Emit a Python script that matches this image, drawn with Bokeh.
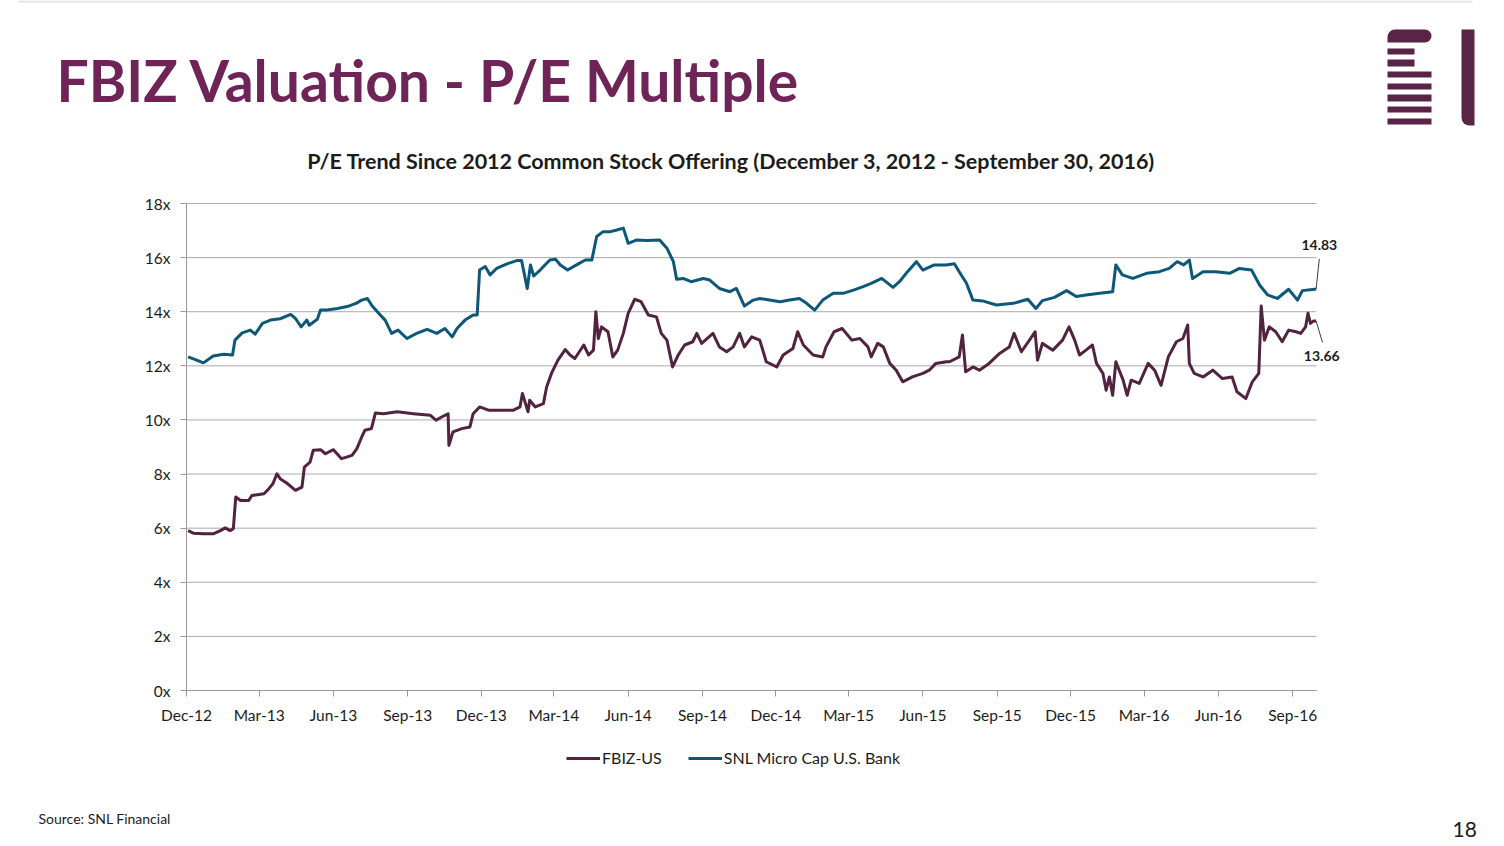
import pandas as pd
from datetime import datetime
from bokeh.plotting import figure
from bokeh.models import (Range1d, FixedTicker, DatetimeTickFormatter, PrintfTickFormatter,
                          Label, Legend, LegendItem, BoxAnnotation, Arrow, ColumnDataSource)
from bokeh.embed import file_html
from bokeh.resources import INLINE

# ---------------- data ----------------
slide_title = "FBIZ Valuation - P/E Multiple"
chart_title = "P/E Trend Since 2012 Common Stock Offering (December 3, 2012 - September 30, 2016)"
source_note = "Source: SNL Financial"
page_number = "18"
series_names = ["FBIZ-US", "SNL Micro Cap U.S. Bank"]
tick_labels = ["Dec-12", "Mar-13", "Jun-13", "Sep-13", "Dec-13", "Mar-14", "Jun-14", "Sep-14",
               "Dec-14", "Mar-15", "Jun-15", "Sep-15", "Dec-15", "Mar-16", "Jun-16", "Sep-16"]
y_ticks = [0, 2, 4, 6, 8, 10, 12, 14, 16, 18]

fbiz_dates = [
    "2012-12-03", "2012-12-10", "2012-12-22", "2013-01-03", "2013-01-12", "2013-01-18", "2013-01-24",
    "2013-01-28", "2013-01-31", "2013-02-06", "2013-02-16", "2013-02-20", "2013-03-07", "2013-03-13",
    "2013-03-18", "2013-03-23", "2013-03-27", "2013-04-04", "2013-04-15", "2013-04-23", "2013-04-26",
    "2013-05-03", "2013-05-07", "2013-05-16", "2013-05-22", "2013-06-01", "2013-06-11", "2013-06-24",
    "2013-06-30", "2013-07-06", "2013-07-10", "2013-07-18", "2013-07-23", "2013-08-02", "2013-08-19",
    "2013-09-08", "2013-09-29", "2013-10-06", "2013-10-13", "2013-10-21", "2013-10-22", "2013-10-27",
    "2013-11-07", "2013-11-17", "2013-11-21", "2013-11-29", "2013-12-10", "2013-12-24", "2014-01-10",
    "2014-01-18", "2014-01-21", "2014-01-28", "2014-01-30", "2014-02-06", "2014-02-16", "2014-02-20",
    "2014-02-26", "2014-03-06", "2014-03-15", "2014-03-21", "2014-03-27", "2014-04-07", "2014-04-13",
    "2014-04-19", "2014-04-22", "2014-04-25", "2014-04-29", "2014-05-07", "2014-05-13", "2014-05-19",
    "2014-05-26", "2014-06-01", "2014-06-09", "2014-06-17", "2014-06-26", "2014-07-06", "2014-07-12",
    "2014-07-19", "2014-07-26", "2014-08-02", "2014-08-10", "2014-08-20", "2014-08-25", "2014-08-31",
    "2014-09-14", "2014-09-22", "2014-10-01", "2014-10-09", "2014-10-17", "2014-10-23", "2014-11-01",
    "2014-11-11", "2014-11-19", "2014-12-02", "2014-12-10", "2014-12-22", "2014-12-28", "2015-01-04",
    "2015-01-16", "2015-01-28", "2015-02-01", "2015-02-11", "2015-02-21", "2015-03-05", "2015-03-15",
    "2015-03-25", "2015-03-29", "2015-04-06", "2015-04-13", "2015-04-21", "2015-04-29", "2015-05-07",
    "2015-05-19", "2015-06-01", "2015-06-09", "2015-06-17", "2015-06-30", "2015-07-04", "2015-07-16",
    "2015-07-20", "2015-07-24", "2015-08-02", "2015-08-10", "2015-08-22", "2015-09-04", "2015-09-16",
    "2015-09-22", "2015-10-01", "2015-10-11", "2015-10-18", "2015-10-21", "2015-10-27", "2015-11-09",
    "2015-11-21", "2015-11-29", "2015-12-06", "2015-12-12", "2015-12-20", "2015-12-28", "2016-01-02",
    "2016-01-10", "2016-01-14", "2016-01-18", "2016-01-22", "2016-01-26", "2016-02-04", "2016-02-09",
    "2016-02-14", "2016-02-24", "2016-03-06", "2016-03-14", "2016-03-22", "2016-03-31", "2016-04-10",
    "2016-04-18", "2016-04-24", "2016-04-26", "2016-05-02", "2016-05-13", "2016-05-25", "2016-06-06",
    "2016-06-18", "2016-06-24", "2016-07-05", "2016-07-13", "2016-07-21", "2016-07-24", "2016-07-28",
    "2016-08-03", "2016-08-11", "2016-08-19", "2016-08-27", "2016-09-05", "2016-09-11", "2016-09-17",
    "2016-09-20", "2016-09-23", "2016-09-27", "2016-09-30"]
fbiz_pe = [
    5.91, 5.81, 5.79, 5.79, 5.91, 6.01, 5.91,
    5.98, 7.15, 7.02, 7.02, 7.21, 7.27, 7.46,
    7.64, 8.01, 7.83, 7.67, 7.40, 7.52, 8.26,
    8.44, 8.88, 8.90, 8.75, 8.90, 8.57, 8.69,
    8.94, 9.37, 9.62, 9.68, 10.26, 10.23, 10.30,
    10.23, 10.17, 9.99, 10.11, 10.23, 9.06, 9.56,
    9.68, 9.74, 10.23, 10.48, 10.36, 10.36, 10.36,
    10.48, 10.98, 10.30, 10.73, 10.48, 10.60, 11.22,
    11.72, 12.21, 12.60, 12.40, 12.27, 12.77, 12.40,
    12.58, 14.00, 13.01, 13.44, 13.26, 12.33, 12.58,
    13.20, 13.94, 14.46, 14.37, 13.88, 13.81, 13.20,
    12.95, 11.96, 12.40, 12.77, 12.89, 13.20, 12.83,
    13.20, 12.70, 12.52, 12.70, 13.20, 12.70, 13.07,
    12.95, 12.15, 11.96, 12.40, 12.64, 13.26, 12.77,
    12.40, 12.33, 12.70, 13.26, 13.38, 12.95, 13.01,
    12.70, 12.33, 12.83, 12.70, 12.09, 11.84, 11.41,
    11.59, 11.72, 11.84, 12.09, 12.15, 12.15, 12.33,
    13.14, 11.78, 11.96, 11.84, 12.09, 12.46, 12.70,
    13.20, 12.52, 12.95, 13.26, 12.21, 12.83, 12.58,
    12.95, 13.44, 12.95, 12.40, 12.58, 12.77, 12.09,
    11.72, 11.10, 11.59, 10.91, 12.15, 11.47, 10.91,
    11.47, 11.35, 12.09, 11.84, 11.28, 12.33, 12.89,
    13.01, 13.51, 12.09, 11.72, 11.59, 11.84, 11.53,
    11.59, 11.04, 10.79, 11.41, 11.72, 14.21, 12.95,
    13.44, 13.26, 12.89, 13.32, 13.26, 13.20, 13.44,
    13.94, 13.57, 13.66, 13.66]

snl_dates = [
    "2012-12-03", "2012-12-12", "2012-12-22", "2013-01-03", "2013-01-16", "2013-01-27", "2013-01-30",
    "2013-02-08", "2013-02-18", "2013-02-24", "2013-03-05", "2013-03-15", "2013-03-27", "2013-04-09",
    "2013-04-15", "2013-04-22", "2013-04-29", "2013-05-02", "2013-05-12", "2013-05-16", "2013-05-24",
    "2013-06-06", "2013-06-18", "2013-06-29", "2013-07-06", "2013-07-13", "2013-07-19", "2013-07-29",
    "2013-08-04", "2013-08-12", "2013-08-20", "2013-08-31", "2013-09-12", "2013-09-25", "2013-10-07",
    "2013-10-17", "2013-10-26", "2013-11-01", "2013-11-11", "2013-11-21", "2013-11-26", "2013-11-29",
    "2013-12-06", "2013-12-12", "2013-12-20", "2014-01-02", "2014-01-14", "2014-01-20", "2014-01-27",
    "2014-01-31", "2014-02-04", "2014-02-12", "2014-02-24", "2014-03-03", "2014-03-09", "2014-03-18",
    "2014-03-29", "2014-04-09", "2014-04-17", "2014-04-23", "2014-05-01", "2014-05-10", "2014-05-18",
    "2014-05-26", "2014-06-01", "2014-06-11", "2014-06-24", "2014-07-10", "2014-07-19", "2014-07-27",
    "2014-07-31", "2014-08-08", "2014-08-18", "2014-09-02", "2014-09-10", "2014-09-22", "2014-10-05",
    "2014-10-13", "2014-10-23", "2014-11-03", "2014-11-11", "2014-11-23", "2014-12-06", "2014-12-18",
    "2014-12-30", "2015-01-08", "2015-01-18", "2015-01-28", "2015-02-10", "2015-02-22", "2015-03-07",
    "2015-03-19", "2015-03-29", "2015-04-11", "2015-04-25", "2015-05-03", "2015-05-13", "2015-05-24",
    "2015-06-01", "2015-06-15", "2015-06-30", "2015-07-10", "2015-07-16", "2015-07-25", "2015-08-02",
    "2015-08-14", "2015-08-31", "2015-09-21", "2015-10-09", "2015-10-19", "2015-10-27", "2015-11-11",
    "2015-11-26", "2015-12-08", "2015-12-20", "2016-01-06", "2016-01-22", "2016-01-26", "2016-02-03",
    "2016-02-16", "2016-03-04", "2016-03-20", "2016-04-01", "2016-04-11", "2016-04-19", "2016-04-26",
    "2016-04-30", "2016-05-13", "2016-05-29", "2016-06-15", "2016-06-27", "2016-07-12", "2016-07-22",
    "2016-08-01", "2016-08-13", "2016-08-27", "2016-09-07", "2016-09-13", "2016-09-28", "2016-09-30"]
snl_pe = [
    12.33, 12.23, 12.11, 12.36, 12.43, 12.40, 12.95,
    13.22, 13.32, 13.17, 13.57, 13.69, 13.74, 13.90,
    13.75, 13.44, 13.69, 13.50, 13.72, 14.06, 14.06,
    14.12, 14.19, 14.31, 14.43, 14.49, 14.21, 13.88,
    13.69, 13.20, 13.32, 13.01, 13.20, 13.35, 13.20,
    13.38, 13.07, 13.38, 13.69, 13.88, 13.88, 15.54,
    15.67, 15.36, 15.60, 15.77, 15.89, 15.89, 14.86,
    15.73, 15.32, 15.54, 15.91, 15.94, 15.73, 15.54,
    15.73, 15.91, 15.91, 16.78, 16.96, 16.96, 17.02,
    17.09, 16.53, 16.65, 16.63, 16.65, 16.35, 15.85,
    15.20, 15.23, 15.11, 15.23, 15.17, 14.86, 14.74,
    14.86, 14.21, 14.43, 14.49, 14.43, 14.37, 14.43,
    14.49, 14.31, 14.06, 14.43, 14.68, 14.68, 14.80,
    14.93, 15.05, 15.23, 14.90, 15.11, 15.48, 15.85,
    15.54, 15.73, 15.73, 15.77, 15.48, 15.05, 14.43,
    14.40, 14.25, 14.31, 14.46, 14.12, 14.41, 14.53,
    14.78, 14.56, 14.62, 14.68, 14.74, 15.73, 15.36,
    15.23, 15.42, 15.48, 15.60, 15.85, 15.73, 15.91,
    15.23, 15.48, 15.48, 15.42, 15.60, 15.54, 14.99,
    14.62, 14.49, 14.83, 14.43, 14.78, 14.83, 14.83]

# ---------------- style ----------------
FONT = "Lato"
TITLE_C = "#6f2458"
LOGO_C = "#5a2446"
FBIZ_C = "#51233f"
SNL_C = "#0d5878"
GRID_C = "#ababab"
AXIS_C = "#9a9a9a"
TEXT_C = "#1c1c1c"

W, H = 1504, 846
# chart area on the page: x 186..1316, y 203 (18x) .. 690 (0x)
CH_L, CH_R, CH_T, CH_B = 186, 1316, 203, 690


def ms(d):
    return pd.Timestamp(d).value / 1e6


def fy(page_y):          # screen units measured from the bottom of the canvas
    return H - page_y


t0 = ms(datetime(2012, 12, 1))
t1 = ms(datetime(2016, 9, 30, 12))
sx = (t1 - t0) / (CH_R - CH_L)
ymin, ymax = y_ticks[0], y_ticks[-1]
sy = (ymax - ymin) / (CH_B - CH_T)

p = figure(width=W, height=H, x_axis_type="datetime",
           x_range=Range1d(t0 - CH_L * sx, t1 + (W - CH_R) * sx),
           y_range=Range1d(ymin - (H - CH_B) * sy, ymax + CH_T * sy),
           output_backend="svg", toolbar_location=None, min_border=0)
p.title.visible = False
p.outline_line_color = None
p.background_fill_color = "white"
p.border_fill_color = "white"
p.grid.visible = False

# axes drawn at fixed data locations (they then take no border space)
tick_ms = [ms(datetime.strptime(t, "%b-%y")) for t in tick_labels]
p.xaxis.ticker = FixedTicker(ticks=tick_ms)
fmt = "%b-%y"
p.xaxis.formatter = DatetimeTickFormatter(microseconds=fmt, milliseconds=fmt, seconds=fmt, minsec=fmt,
                                          minutes=fmt, hourmin=fmt, hours=fmt, days=fmt,
                                          months=fmt, years=fmt)
p.xaxis.fixed_location = ymin
p.xaxis.bounds = (t0, t1)
p.yaxis.ticker = FixedTicker(ticks=y_ticks)
p.yaxis.formatter = PrintfTickFormatter(format="%dx")
p.yaxis.fixed_location = t0
p.yaxis.bounds = (ymin, ymax)

for ax in (p.xaxis[0], p.yaxis[0]):
    ax.axis_line_color = AXIS_C
    ax.major_tick_line_color = AXIS_C
    ax.major_tick_in = 0
    ax.major_tick_out = 6
    ax.minor_tick_in = 0
    ax.minor_tick_out = 0
    ax.major_label_text_font = FONT
    ax.major_label_text_font_size = "15.5px"
    ax.major_label_text_color = TEXT_C
p.xaxis.major_label_standoff = 9
p.yaxis.major_label_standoff = 10

# horizontal grid lines across the chart area only
p.segment(x0=[t0] * len(y_ticks), x1=[t1] * len(y_ticks), y0=y_ticks, y1=y_ticks,
          line_color=GRID_C, line_width=1)

src_f = ColumnDataSource(dict(date=pd.to_datetime(fbiz_dates), pe=fbiz_pe))
src_s = ColumnDataSource(dict(date=pd.to_datetime(snl_dates), pe=snl_pe))
r_s = p.line("date", "pe", source=src_s, line_color=SNL_C, line_width=3, line_join="round")
r_f = p.line("date", "pe", source=src_f, line_color=FBIZ_C, line_width=3, line_join="round")

legend = Legend(items=[LegendItem(label=series_names[0], renderers=[r_f]),
                       LegendItem(label=series_names[1], renderers=[r_s])],
                orientation="horizontal", location=(566, fy(767)),
                glyph_width=34, glyph_height=18, label_standoff=2, spacing=26,
                label_text_font=FONT, label_text_font_size="16px", label_text_color=TEXT_C,
                border_line_alpha=0, background_fill_alpha=0, padding=0, margin=0)
p.add_layout(legend)

# end-value callouts
last_f_x, last_f_y = ms(fbiz_dates[-1]), fbiz_pe[-1]
last_s_x, last_s_y = ms(snl_dates[-1]), snl_pe[-1]
day = 86400000.0
p.add_layout(Arrow(end=None, x_start=last_s_x, y_start=last_s_y,
                   x_end=last_s_x + 4 * day, y_end=last_s_y + 1.13,
                   line_color="#404040", line_width=1))
p.add_layout(Arrow(end=None, x_start=last_f_x, y_start=last_f_y,
                   x_end=last_f_x + 8 * day, y_end=last_f_y - 0.8,
                   line_color="#404040", line_width=1))
p.add_layout(Label(x=last_s_x + 4 * day, y=last_s_y + 1.62, text=f"{last_s_y:.2f}", text_font=FONT,
                   text_font_style="bold", text_font_size="14px", text_color=TEXT_C,
                   text_align="center", text_baseline="middle"))
p.add_layout(Label(x=last_f_x + 7 * day, y=last_f_y - 1.3, text=f"{last_f_y:.2f}", text_font=FONT,
                   text_font_style="bold", text_font_size="14px", text_color=TEXT_C,
                   text_align="center", text_baseline="middle"))

# slide title, chart title, source, page number (screen units)
p.add_layout(Label(x=56, y=fy(79), x_units="screen", y_units="screen", text=slide_title,
                   text_font=FONT, text_font_style="bold", text_font_size="57px",
                   text_color=TITLE_C, text_baseline="middle"))
p.add_layout(Label(x=731, y=fy(160), x_units="screen", y_units="screen", text=chart_title,
                   text_font=FONT, text_font_style="bold", text_font_size="21.5px",
                   text_color=TEXT_C, text_align="center", text_baseline="middle"))
p.add_layout(Label(x=38, y=fy(818), x_units="screen", y_units="screen", text=source_note,
                   text_font=FONT, text_font_size="14px", text_color=TEXT_C,
                   text_align="left", text_baseline="middle"))
p.add_layout(Label(x=1452, y=fy(829), x_units="screen", y_units="screen", text=page_number,
                   text_font=FONT, text_font_size="21px", text_color=TEXT_C,
                   text_align="left", text_baseline="middle"))

# thin rule along the top edge of the slide
p.add_layout(BoxAnnotation(left=18, right=1472, top=fy(0), bottom=fy(2),
                           left_units="screen", right_units="screen",
                           top_units="screen", bottom_units="screen",
                           fill_color="#dde3ea", fill_alpha=1.0, line_alpha=0))

# logo
logo_boxes = [
    (1387, 1431, 29, 42, (8, 7, 7, 0)),
    (1387, 1414, 48, 54, 0),
    (1387, 1414, 59, 66, 0),
    (1387, 1431, 71, 77, 0),
    (1387, 1431, 83, 89, 0),
    (1387, 1431, 94, 101, 0),
    (1387, 1431, 106, 112, 0),
    (1387, 1431, 118, 124, 0),
    (1461, 1474, 29, 125, (0, 0, 0, 8)),
]
for l, r, t, b, rad in logo_boxes:
    p.add_layout(BoxAnnotation(left=l, right=r, top=fy(t), bottom=fy(b),
                               left_units="screen", right_units="screen",
                               top_units="screen", bottom_units="screen",
                               fill_color=LOGO_C, fill_alpha=1.0, line_alpha=0,
                               border_radius=rad))

open("out.html", "w").write(file_html(p, INLINE))
